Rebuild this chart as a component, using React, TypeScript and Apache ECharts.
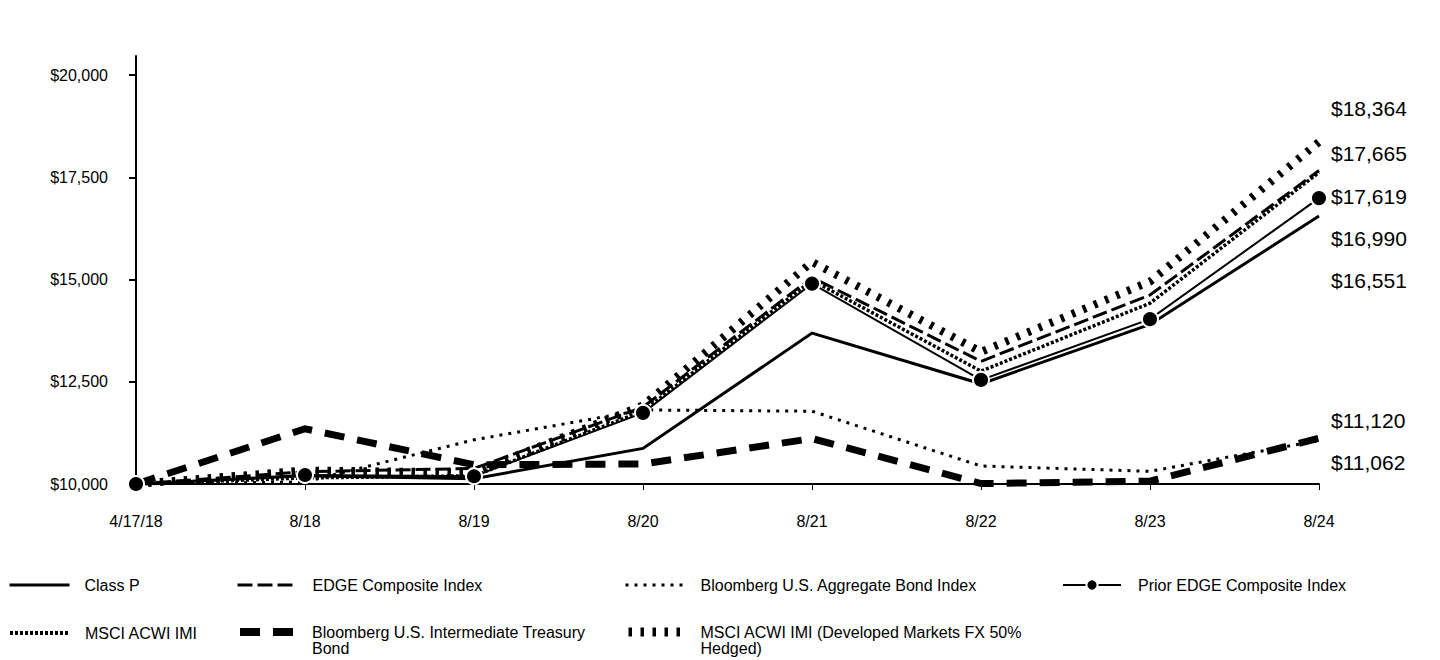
import React, { useEffect, useRef } from 'react';
import * as echarts from 'echarts';

const categories = ['4/17/18', '8/18', '8/19', '8/20', '8/21', '8/22', '8/23', '8/24'];

const classP = [10000, 10200, 10130, 10870, 13690, 12450, 13900, 16551];
const edgeComposite = [10000, 10300, 10380, 11880, 15050, 13000, 14620, 17665];
const aggBond = [10000, 10050, 11080, 11810, 11780, 10440, 10310, 11062];
const priorEdge = [10000, 10220, 10190, 11740, 14900, 12545, 14030, 16990];
const msciImi = [10000, 10150, 10200, 11780, 14980, 12760, 14420, 17619];
const treasury = [10000, 11350, 10470, 10490, 11110, 10010, 10070, 11120];
const msciHedged = [10000, 10330, 10280, 11920, 15430, 13230, 14950, 18364];

const yTicks = [10000, 12500, 15000, 17500, 20000];

const seriesNames = {
  classP: 'Class P',
  edge: 'EDGE Composite Index',
  agg: 'Bloomberg U.S. Aggregate Bond Index',
  prior: 'Prior EDGE Composite Index',
  imi: 'MSCI ACWI IMI',
  treasury: 'Bloomberg U.S. Intermediate Treasury Bond',
  hedged: 'MSCI ACWI IMI (Developed Markets FX 50% Hedged)',
};

const FONT = '"Liberation Sans", Arial, Helvetica, sans-serif';

const fmt = (v: number) => '$' + v.toLocaleString('en-US');

export default function App() {
  const ref = useRef<HTMLDivElement>(null);

  useEffect(() => {
    const chart = echarts.init(ref.current!, null, { renderer: 'svg' });

    const lineSeries = (name: string, data: number[], width: number, type: any, extra: any = {}) => ({
      name,
      type: 'line',
      data,
      symbol: 'none',
      lineStyle: { color: '#000', width, type, cap: 'butt', join: 'miter' },
      itemStyle: { color: '#000' },
      ...extra,
    });

    const series = [
      lineSeries(seriesNames.treasury, treasury, 7, [20, 13]),
      lineSeries(seriesNames.agg, aggBond, 3, [3, 6]),
      lineSeries(seriesNames.classP, classP, 3, 'solid'),
      lineSeries(seriesNames.edge, edgeComposite, 3, [15, 5]),
      lineSeries(seriesNames.imi, msciImi, 3.5, [3, 2]),
      lineSeries(seriesNames.hedged, msciHedged, 8, [3.5, 8.5]),
      lineSeries(seriesNames.prior, priorEdge, 2, 'solid', {
        symbol: 'circle',
        symbolSize: 16,
        showSymbol: true,
        itemStyle: { color: '#000', borderColor: '#fff', borderWidth: 2 },
      }),
    ];

    const legendItem = (
      name: string,
      left: number,
      top: number,
      width: number,
      iconW: number,
      pad: number,
      showSymbol: boolean,
      label?: string
    ) => {
      const twoLine = !!label && label.includes('\n');
      return {
        show: true,
        data: [name],
        left,
        top: twoLine ? top - 17 : top,
        padding: 0,
        itemWidth: iconW,
        itemHeight: 14,
        selectedMode: false,
        lineStyle: { width },
        itemStyle: showSymbol ? {} : { opacity: 0 },
        // leading empty line keeps the first text line level with the icon
        formatter: () => (twoLine ? '\n' + label : label ?? name),
        textStyle: {
          color: '#000',
          fontSize: 16,
          fontFamily: FONT,
          lineHeight: 16,
          padding: [0, 0, 0, pad],
        },
      };
    };

    const legends = [
      legendItem(seriesNames.classP, 8, 577, 3, 60, 10, false),
      legendItem(seriesNames.edge, 236, 577, 3, 60, 10, false),
      legendItem(seriesNames.agg, 624, 577, 3, 60, 10, false),
      legendItem(seriesNames.prior, 1062, 577, 2, 58, 12, true),
      legendItem(seriesNames.imi, 8, 625, 4, 60, 10, false),
      legendItem(seriesNames.treasury, 236, 625, 8, 60, 7, false, 'Bloomberg U.S. Intermediate Treasury\nBond'),
      legendItem(seriesNames.hedged, 624, 625, 9, 60, 7, false, 'MSCI ACWI IMI (Developed Markets FX 50%\nHedged)'),
    ];

    const endValues = [
      msciHedged[msciHedged.length - 1],
      edgeComposite[edgeComposite.length - 1],
      msciImi[msciImi.length - 1],
      priorEdge[priorEdge.length - 1],
      classP[classP.length - 1],
      treasury[treasury.length - 1],
      aggBond[aggBond.length - 1],
    ];
    const endLabelY = [110, 155, 198, 240, 282, 422, 464];

    const graphic = endValues.map((v, i) => ({
      type: 'text',
      left: 1331,
      top: endLabelY[i] - 12,
      style: {
        text: fmt(v),
        fill: '#000',
        font: `21px ${FONT}`,
      },
    }));

    const option: any = {
      animation: false,
      backgroundColor: '#fff',
      textStyle: { fontFamily: FONT },
      grid: { left: 136, right: 121, top: 56, bottom: 176, containLabel: false },
      xAxis: {
        type: 'category',
        data: categories,
        boundaryGap: false,
        axisLine: { show: true, lineStyle: { color: '#000', width: 2 } },
        axisTick: { show: true, length: 6, lineStyle: { color: '#000', width: 1 } },
        axisLabel: { color: '#000', fontSize: 16, fontFamily: FONT, margin: 29 },
        splitLine: { show: false },
      },
      yAxis: {
        type: 'value',
        min: 10000,
        max: 20465,
        interval: 2500,
        axisLine: { show: true, lineStyle: { color: '#000', width: 2 } },
        axisTick: { show: true, length: 7, lineStyle: { color: '#000', width: 2 }, customValues: yTicks },
        axisLabel: {
          color: '#000',
          fontSize: 16,
          fontFamily: FONT,
          margin: 28,
          customValues: yTicks,
          formatter: (v: number) => fmt(v),
        },
        splitLine: { show: false },
      },
      legend: legends,
      series,
      graphic,
    };

    chart.setOption(option);
    return () => chart.dispose();
  }, []);

  return (
    <div
      ref={ref}
      style={{ position: 'fixed', left: 0, top: 0, width: 1440, height: 660, background: '#fff' }}
    />
  );
}
